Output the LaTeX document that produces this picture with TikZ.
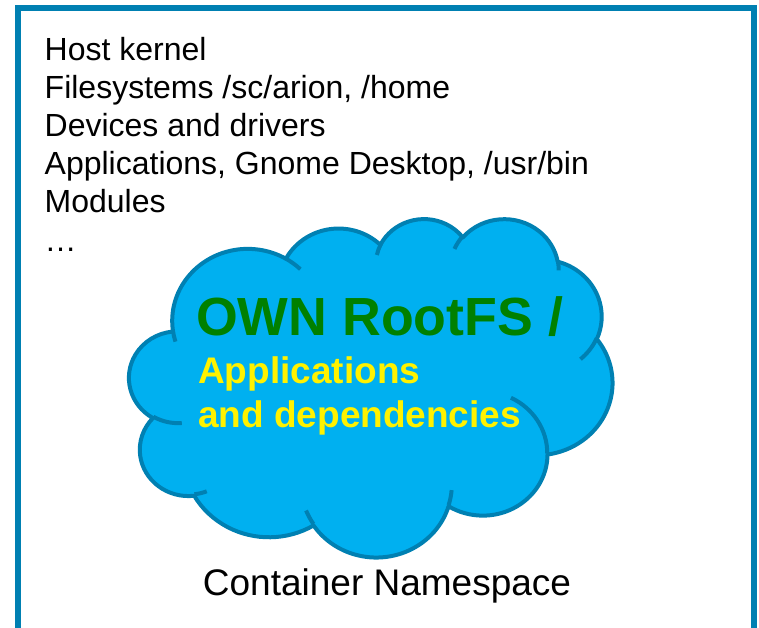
\documentclass[tikz,border=0pt]{standalone}
\usepackage{fontspec}
\setmainfont{Liberation Sans}
\usetikzlibrary{positioning}

% angle parametrique d'un point d'ellipse vu sous un angle donne
\pgfmathdeclarefunction{pang}{3}{%
  \pgfmathparse{atan2((#1)*sin(#3),(#2)*cos(#3))}%
}

\definecolor{nsblue}{RGB}{0,128,178}
\definecolor{cloudfill}{RGB}{0,176,240}
\definecolor{rootgreen}{RGB}{0,128,0}

\begin{document}
\begin{tikzpicture}[x=1pt,y=-1pt]
    \def\cloudx{1.1181}
    \def\cloudy{0.7831}
    \tikzstyle{frame}=[draw=nsblue,line width=6pt]
    \tikzstyle{cloud line}=[draw=nsblue,line width=4pt,line join=round]
    \tikzstyle{host}=[anchor=base west,inner sep=0pt,font=\fontsize{32}{38}\selectfont]
    \tikzstyle{rootfs}=[anchor=base west,inner sep=0pt,text=rootgreen,font=\fontsize{53.7}{64}\selectfont\bfseries]
    \tikzstyle{apps}=[anchor=base west,inner sep=0pt,text=yellow,font=\fontsize{37}{44}\selectfont\bfseries]
    \tikzstyle{label}=[anchor=base,inner sep=0pt,font=\fontsize{37}{44}\selectfont]
    \tikzset{puff/.style n args={4}{x radius=#1,y radius=#2,
        start angle={pang(#1,#2,#3)},
        delta angle={pang(#1,#2,#3+#4)-pang(#1,#2,#3)-360*round((pang(#1,#2,#3+#4)-pang(#1,#2,#3)-(#4))/360)}}}

\useasboundingbox (0,0) rectangle (759,628);
\clip (0,0) rectangle (759,628);

% Cadre
\draw[frame] (18,8) rectangle (754,660);

% Hote
\foreach \txt [count=\i] in {Host kernel,{Filesystems /sc/arion, /home},Devices and drivers,{Applications, Gnome Desktop, /usr/bin},Modules,…}
  \node[host] (H-\i) at (44.5,{61+38*(\i-1)}) {\txt};

% Nuage
\begin{scope}[shift={(129.3,218)},x=\cloudx pt,y=-\cloudy pt]
 \path[fill=cloudfill,cloud line] (39.00,143.70)
    arc[puff={67.53}{91.90}{-190.4875}{123.7805}]
    arc[puff={53.33}{72.67}{-144.1024}{89.9452}]
    arc[puff={43.65}{59.45}{-145.8079}{99.7230}]
    arc[puff={48.57}{65.95}{-130.9861}{117.2417}]
    arc[puff={53.33}{72.73}{-78.7089}{109.0269}]
    arc[puff={67.75}{92.20}{-46.2673}{130.2690}]
    arc[puff={57.85}{78.67}{0.6250}{114.0333}]
    arc[puff={67.52}{92.15}{22.4516}{115.1726}]
    arc[puff={77.20}{105.43}{66.2426}{75.7110}]
    arc[puff={43.60}{59.18}{-274.9421}{146.7356}]
    arc[puff={43.45}{59.45}{-246.8285}{152.5189}]
    -- cycle;
 \draw[cloud line]
    (46.93,261.77) arc[puff={43.45}{59.45}{86.7420}{26.4295}]
    (69.28,348.99) arc[puff={43.60}{59.18}{73.6105}{11.4475}]
    (164.78,390.90) arc[puff={67.52}{92.15}{137.6242}{14.0811}]
    (288.27,347.51) arc[puff={67.52}{92.15}{6.4533}{15.9984}]
    (341.29,229.54) arc[puff={57.85}{78.67}{-70.2924}{70.9174}]
    (417.98,153.54) arc[puff={53.33}{72.73}{30.3180}{27.7515}]
    (383.24,54.26) arc[puff={48.57}{65.95}{-13.7443}{14.8589}]
    (290.78,39.52) arc[puff={48.57}{65.95}{-149.1815}{18.1954}]
    (221.41,47.20) arc[puff={43.65}{59.45}{-163.4943}{17.6864}]
    (140.00,51.92) arc[puff={67.53}{91.90}{-66.7070}{12.3194}]
    (41.27,157.89) arc[puff={67.53}{91.90}{157.6544}{11.8582}];
\end{scope}

% RootFS
\node[rootfs] (R) at (196,335) {OWN RootFS /};
\node[apps] (A-1) at (198,383) {Applications};
\node[apps] (A-2) at (198,427) {and dependencies};

% Espace de noms
\node[label] (NS) at (387,595) {Container Namespace};

\end{tikzpicture}
\end{document}
